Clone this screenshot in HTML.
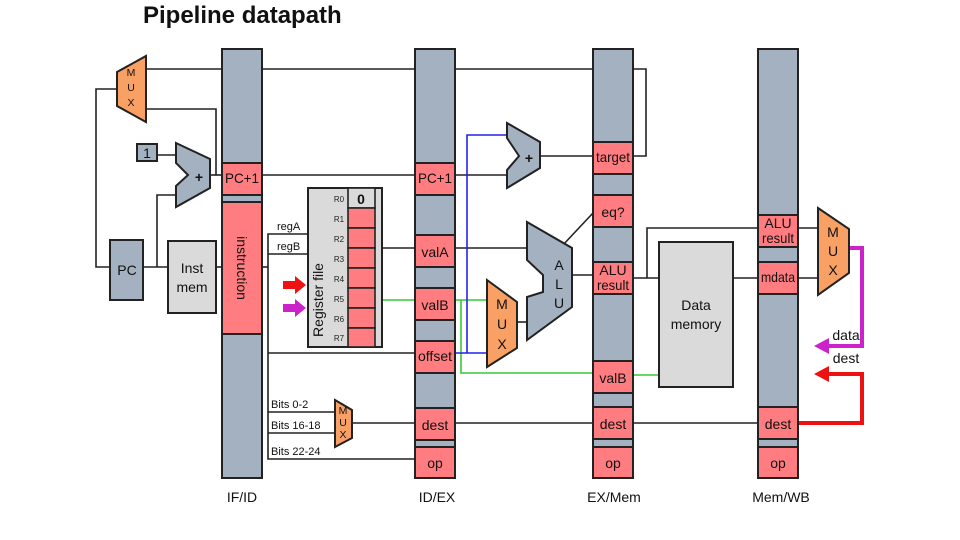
<!DOCTYPE html>
<html><head><meta charset="utf-8"><style>
html,body{margin:0;padding:0;background:#fff}
svg{display:block}
text{font-family:"Liberation Sans",sans-serif}
</style></head><body>
<svg width="960" height="540" viewBox="0 0 960 540" xmlns="http://www.w3.org/2000/svg">
<defs>
<style>
.bar{fill:#a3b1c0;stroke:#222;stroke-width:2}
.pk{fill:#ff7c80;stroke:#222;stroke-width:2}
.or{fill:#f9a065;stroke:#222;stroke-width:2}
.gy{fill:#dadada;stroke:#222;stroke-width:2}
.ln{fill:none;stroke:#222;stroke-width:1.6}
.t{font-size:14px;fill:#111;text-anchor:middle}
.s{font-size:10.5px;fill:#111;text-anchor:middle}
</style>
</defs>
<text x="143" y="23" font-size="24" font-weight="bold" fill="#111">Pipeline datapath</text>

<!-- wires -->
<polyline class="ln" points="146,69 646,69 646,156 633,156"/>
<polyline class="ln" points="146,109 216,109 216,175"/>
<polyline class="ln" points="117,89 96,89 96,267 110,267"/>
<polyline class="ln" points="143,267 168,267"/>
<polyline class="ln" points="157,267 157,195 176,195"/>
<polyline class="ln" points="157,155 176,155"/>
<polyline class="ln" points="210,175 222,175"/>
<polyline class="ln" points="262,175 415,175"/>
<polyline class="ln" points="455,175 507,175"/>
<polyline class="ln" points="216,267 222,267"/>
<polyline class="ln" points="262,267 268,267"/>
<polyline class="ln" points="308,234 268,234 268,459 415,459"/>
<polyline class="ln" points="308,254 268,254"/>
<polyline class="ln" points="268,353 415,353"/>
<polyline class="ln" points="268,412 335,412"/>
<polyline class="ln" points="268,433 335,433"/>
<polyline class="ln" points="352,423 415,423"/>
<polyline class="ln" points="455,423 593,423"/>
<polyline class="ln" points="633,423 758,423"/>
<polyline class="ln" points="382,248 415,248"/>
<polyline class="ln" points="455,248 527,248"/>
<polyline class="ln" points="517,322 527,322"/>
<polyline class="ln" points="572,275 593,275"/>
<polyline class="ln" points="562,246 593,213"/>
<polyline class="ln" points="540,156 593,156"/>
<polyline class="ln" points="633,278 659,278"/>
<polyline class="ln" points="647,278 647,228 758,228"/>
<polyline class="ln" points="733,278 758,278"/>
<polyline class="ln" points="798,228 818,228"/>
<polyline class="ln" points="798,278 818,278"/>
<!-- green -->
<polyline fill="none" stroke="#33cc33" stroke-width="1.6" points="382,300 415,300"/>
<polyline fill="none" stroke="#33cc33" stroke-width="1.6" points="455,300 487,300"/>
<polyline fill="none" stroke="#33cc33" stroke-width="1.6" points="461,300 461,373 593,373"/>
<polyline fill="none" stroke="#33cc33" stroke-width="1.6" points="633,375 659,375"/>
<!-- blue -->
<polyline fill="none" stroke="#2222ee" stroke-width="1.6" points="455,353 487,353"/>
<polyline fill="none" stroke="#2222ee" stroke-width="1.6" points="467,353 467,135 507,135"/>
<!-- magenta / red -->
<polyline fill="none" stroke="#cc22cc" stroke-width="4" points="849,248 862,248 862,346 828,346"/>
<polygon fill="#cc22cc" points="814,346 829,338 829,354"/>
<polyline fill="none" stroke="#ee1111" stroke-width="4" points="798,423 862,423 862,374 828,374"/>
<polygon fill="#ee1111" points="814,374 829,366 829,382"/>
<text x="846" y="340" class="t" font-size="13">data</text>
<text x="846" y="363" class="t" font-size="13">dest</text>

<!-- pipeline bars -->
<rect class="bar" x="222" y="49" width="40" height="429"/>
<rect class="pk" x="222" y="163" width="40" height="32"/>
<rect class="pk" x="222" y="202" width="40" height="132"/>
<text class="t" font-size="15" transform="translate(242,268) rotate(90)" dy="5">instruction</text>
<text class="t" x="242" y="183" font-size="12" textLength="34" lengthAdjust="spacingAndGlyphs">PC+1</text>

<rect class="bar" x="415" y="49" width="40" height="429"/>
<rect class="pk" x="415" y="163" width="40" height="32"/><text class="t" x="435" y="183" font-size="12" textLength="34" lengthAdjust="spacingAndGlyphs">PC+1</text>
<rect class="pk" x="415" y="235" width="40" height="32"/><text class="t" x="435" y="257" font-size="15">valA</text>
<rect class="pk" x="415" y="288" width="40" height="32"/><text class="t" x="435" y="310" font-size="15">valB</text>
<rect class="pk" x="415" y="341" width="40" height="32"/><text class="t" x="435" y="361" font-size="11" textLength="34" lengthAdjust="spacingAndGlyphs">offset</text>
<rect class="pk" x="415" y="408" width="40" height="32"/><text class="t" x="435" y="430" font-size="16">dest</text>
<rect class="pk" x="415" y="447" width="40" height="31"/><text class="t" x="435" y="468" font-size="16">op</text>

<rect class="bar" x="593" y="49" width="40" height="429"/>
<rect class="pk" x="593" y="142" width="40" height="32"/><text class="t" x="613" y="162" font-size="11" textLength="34" lengthAdjust="spacingAndGlyphs">target</text>
<rect class="pk" x="593" y="195" width="40" height="32"/><text class="t" x="613" y="217" font-size="16">eq?</text>
<rect class="pk" x="593" y="262" width="40" height="32"/><text class="t" x="613" y="275" font-size="10.5">ALU</text><text class="t" x="613" y="290" font-size="10.5" textLength="32" lengthAdjust="spacingAndGlyphs">result</text>
<rect class="pk" x="593" y="361" width="40" height="32"/><text class="t" x="613" y="383" font-size="15">valB</text>
<rect class="pk" x="593" y="407" width="40" height="32"/><text class="t" x="613" y="429" font-size="16">dest</text>
<rect class="pk" x="593" y="447" width="40" height="31"/><text class="t" x="613" y="468" font-size="16">op</text>

<rect class="bar" x="758" y="49" width="40" height="429"/>
<rect class="pk" x="758" y="215" width="40" height="32"/><text class="t" x="778" y="228" font-size="10.5">ALU</text><text class="t" x="778" y="243" font-size="10.5" textLength="32" lengthAdjust="spacingAndGlyphs">result</text>
<rect class="pk" x="758" y="262" width="40" height="32"/><text class="t" x="778" y="282" font-size="11" textLength="34" lengthAdjust="spacingAndGlyphs">mdata</text>
<rect class="pk" x="758" y="407" width="40" height="32"/><text class="t" x="778" y="429" font-size="16">dest</text>
<rect class="pk" x="758" y="447" width="40" height="31"/><text class="t" x="778" y="468" font-size="16">op</text>

<text class="t" x="242" y="502" font-size="16">IF/ID</text>
<text class="t" x="437" y="502" font-size="16">ID/EX</text>
<text class="t" x="614" y="502" font-size="16">EX/Mem</text>
<text class="t" x="781" y="502" font-size="16">Mem/WB</text>

<!-- top mux -->
<polygon class="or" points="117,72 146,56 146,122 117,106"/>
<text class="s" x="131" y="76" font-size="9">M</text><text class="s" x="131" y="91" font-size="9">U</text><text class="s" x="131" y="106" font-size="9">X</text>
<!-- adder1 -->
<polygon class="bar" points="176,143 210,159 210,188 176,207 176,186 188,175 176,163"/>
<text class="t" x="199" y="182" font-size="19" font-weight="bold">+</text>
<rect class="bar" x="137" y="144" width="20" height="17"/><text class="t" x="147" y="158" font-size="14">1</text>
<rect class="bar" x="110" y="240" width="33" height="60"/><text class="t" x="127" y="275" font-size="14">PC</text>
<rect class="gy" x="168" y="241" width="48" height="72"/><text class="t" x="192" y="273" font-size="14">Inst</text><text class="t" x="192" y="292" font-size="14">mem</text>

<!-- reg labels -->
<text x="277" y="230" font-size="11" fill="#111">regA</text>
<text x="277" y="250" font-size="11" fill="#111">regB</text>
<!-- register file -->
<rect class="gy" x="308" y="188" width="74" height="159" stroke-width="1.6"/>
<rect x="348" y="188" width="27" height="20" fill="#dadada" stroke="#222" stroke-width="1.6"/>
<text class="t" x="361" y="204" font-size="15" font-weight="bold">0</text>
<g fill="#ff7c80" stroke="#222" stroke-width="1.6">
<rect x="348" y="208" width="27" height="20"/><rect x="348" y="228" width="27" height="20"/><rect x="348" y="248" width="27" height="20"/><rect x="348" y="268" width="27" height="20"/><rect x="348" y="288" width="27" height="20"/><rect x="348" y="308" width="27" height="20"/><rect x="348" y="328" width="27" height="19"/>
</g>
<g font-size="8" fill="#222" text-anchor="middle">
<text x="339" y="202">R0</text><text x="339" y="222">R1</text><text x="339" y="242">R2</text><text x="339" y="262">R3</text><text x="339" y="282">R4</text><text x="339" y="302">R5</text><text x="339" y="322">R6</text><text x="339" y="341">R7</text>
</g>
<text class="t" font-size="14" transform="translate(323,300) rotate(-90)">Register file</text>
<polygon fill="#ee1111" points="283,281 295,281 295,276 306,285 295,294 295,289 283,289"/>
<polygon fill="#cc22cc" points="283,304 295,304 295,299 306,308 295,317 295,312 283,312"/>

<!-- small mux -->
<polygon class="or" points="335,400 352,410 352,438 335,447" stroke-width="1.5"/>
<text class="s" x="343" y="414" font-size="7">M</text><text class="s" x="343" y="426" font-size="7">U</text><text class="s" x="343" y="438" font-size="7">X</text>
<text x="271" y="408" font-size="11" fill="#111">Bits 0-2</text>
<text x="271" y="429" font-size="11" fill="#111">Bits 16-18</text>
<text x="271" y="455" font-size="11" fill="#111">Bits 22-24</text>

<!-- adder2 -->
<polygon class="bar" points="507,123 540,142 540,168 507,188 507,170 519,156 507,138"/>
<text class="t" x="529" y="163" font-size="19" font-weight="bold">+</text>
<!-- mux2 -->
<polygon class="or" points="487,280 517,302 517,348 487,367"/>
<text class="t" x="502" y="309" font-size="14">M</text><text class="t" x="502" y="329" font-size="14">U</text><text class="t" x="502" y="349" font-size="14">X</text>
<!-- ALU -->
<polygon class="bar" points="527,222 572,248 572,307 527,340 527,297 543,292 543,275 527,260"/>
<text class="t" x="559" y="270" font-size="13">A</text><text class="t" x="559" y="289" font-size="13">L</text><text class="t" x="559" y="308" font-size="13">U</text>
<!-- data memory -->
<rect class="gy" x="659" y="242" width="74" height="145"/>
<text class="t" x="696" y="310" font-size="13">Data</text><text class="t" x="696" y="329" font-size="13">memory</text>
<!-- mux3 -->
<polygon class="or" points="818,208 849,229 849,273 818,295"/>
<text class="t" x="833" y="237" font-size="13">M</text><text class="t" x="833" y="256" font-size="13">U</text><text class="t" x="833" y="275" font-size="13">X</text>
</svg>
</body></html>
